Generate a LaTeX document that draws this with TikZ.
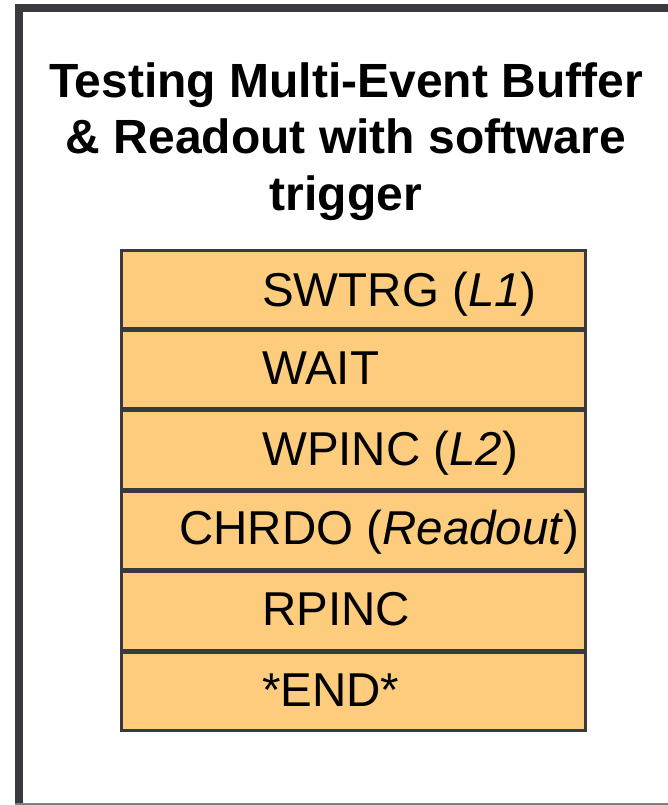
\documentclass[tikz,border=0pt]{standalone}
\usepackage{fontspec}
\setmainfont{Liberation Sans}
\definecolor{framegray}{RGB}{58,57,63}
\definecolor{edgegray}{RGB}{128,128,128}
\definecolor{cellfill}{RGB}{253,204,125}
\tikzset{
  cell/.style={draw=framegray, fill=cellfill, line width=2.5bp},
  celltext/.style={anchor=base west, inner sep=0pt, font=\fontsize{47.5bp}{56bp}\selectfont},
  titletext/.style={anchor=base, inner sep=0pt,
    font=\bfseries\fontsize{48bp}{56.5bp}\selectfont}
}
\begin{document}
\begin{tikzpicture}[x=1bp,y=-1bp]
  \useasboundingbox (0,0) rectangle (668,805);
  % outer frame: heavy left and top edges, thin bottom edge
  \draw[framegray, line width=8bp] (18.7,815) -- (18.7,8) -- (690,8);
  \draw[edgegray, line width=1.5bp] (14.7,804.2) -- (690,804.2);

  % title, one node per line
  \node[titletext] (title1) at (346,97)  {Testing Multi-Event Buffer};
  \node[titletext] (title2) at (346,153.5) {\& Readout with software};
  \node[titletext] (title3) at (346,210) {trigger};

  % command stack
  \foreach \i in {0,...,5}{
    \path[cell] (121.3,250.3+80.4*\i) rectangle (585.3,328.3+80.4*\i);
  }
  \node[celltext] (swtrg) at (262,306) {SWTRG (\textit{L1})};
  \node[celltext] (wait)  at (262,384) {WAIT};
  \node[celltext] (wpinc) at (262,465) {WPINC (\textit{L2})};
  \node[celltext] (chrdo) at (179,544) {CHRDO (\textit{Readout})};
  \node[celltext] (rpinc) at (262,625) {RPINC};
  \node[celltext] (endc)  at (262,706) {*END*};
\end{tikzpicture}
\end{document}
